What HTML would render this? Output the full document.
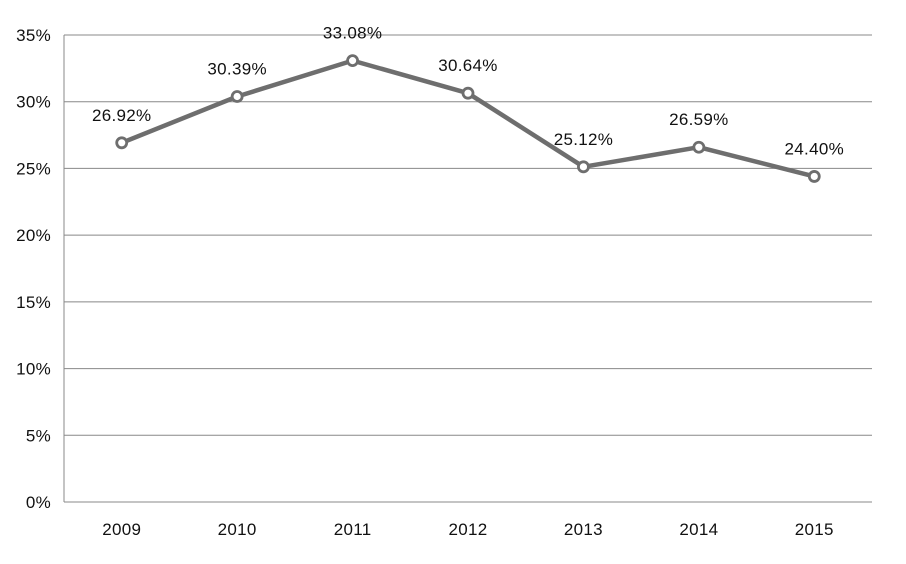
<!DOCTYPE html>
<html><head><meta charset="utf-8"><style>
body{margin:0;background:#fff;}
svg{display:block;font-family:"Liberation Sans",sans-serif;}
</style></head><body>
<svg id="chart" width="906" height="564"></svg>
<script>
const categories=["2009","2010","2011","2012","2013","2014","2015"];
const values=[26.92,30.39,33.08,30.64,25.12,26.59,24.40];
const yTicks=[0,5,10,15,20,25,30,35];
const L=64,R=872,T=35,B=502,yMax=35;
const NS="http://www.w3.org/2000/svg";
const svg=document.getElementById('chart');
const xs=i=>L+(R-L)/categories.length*(i+0.5);
const ys=v=>B-(B-T)*v/yMax;
function mk(tag,attrs){const e=document.createElementNS(NS,tag);for(const k in attrs)e.setAttribute(k,attrs[k]);svg.appendChild(e);return e;}
yTicks.forEach(t=>{
  const g=mk('line',{x1:L,x2:R,y1:ys(t),y2:ys(t),stroke:'#888','stroke-width':1});
  
  
  const tx=mk('text',{x:51,y:ys(t)+6,'text-anchor':'end','font-size':17,'letter-spacing':0.3,fill:'#111'});
  tx.textContent=t+'%';
  
  
});
const ax=mk('line',{x1:L,x2:L,y1:T,y2:B,stroke:'#888','stroke-width':1});


categories.forEach((c,i)=>{
  const tx=mk('text',{x:xs(i),y:535,'text-anchor':'middle','font-size':17,'letter-spacing':0.3,fill:'#111'});
  tx.textContent=c;
  
  
});
const line=mk('polyline',{points:values.map((v,i)=>xs(i)+','+ys(v)).join(' '),fill:'none',stroke:'#6e6e6e','stroke-width':4.5,'stroke-linejoin':'round'});


values.forEach((v,i)=>{
  const c=mk('circle',{cx:xs(i),cy:ys(v),r:5,fill:'#fff',stroke:'#6e6e6e','stroke-width':2.8});
  
  
  const tx=mk('text',{x:xs(i),y:ys(v)-22,'text-anchor':'middle','font-size':17,'letter-spacing':0.3,fill:'#111'});
  tx.textContent=v.toFixed(2)+'%';
  
  
});
</script>
</body></html>
